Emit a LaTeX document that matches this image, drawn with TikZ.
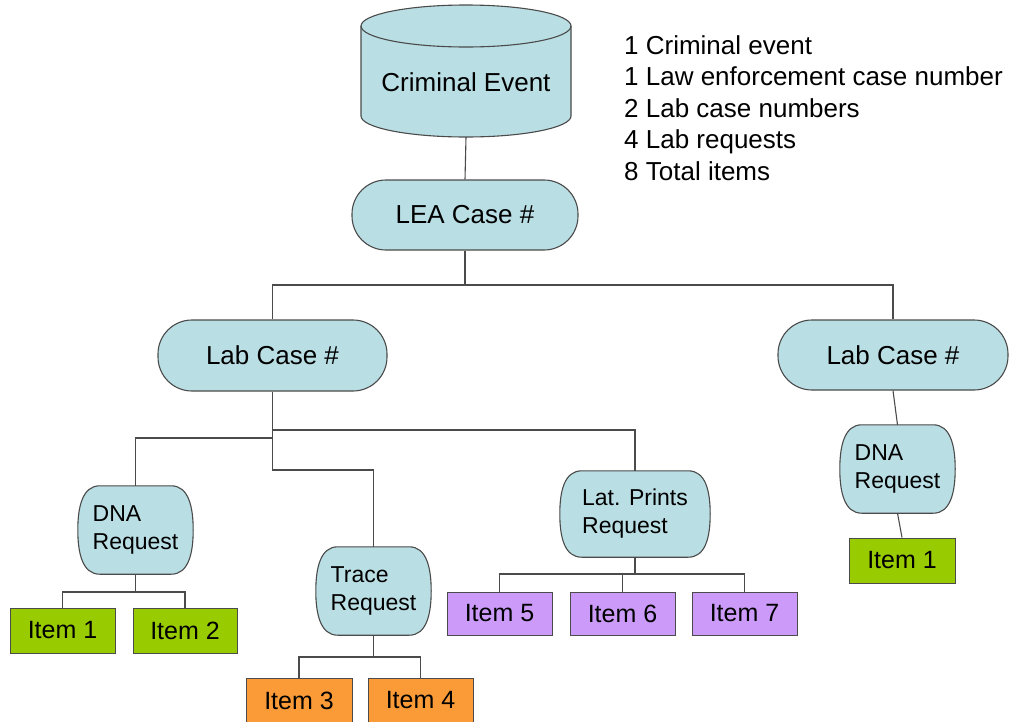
\documentclass[tikz,border=0pt]{standalone}
\usepackage{fontspec}
\setmainfont{Liberation Sans}
\usetikzlibrary{backgrounds,calc}
\definecolor{boxblue}{RGB}{185,222,228}
\definecolor{edgegray}{RGB}{75,75,75}
\definecolor{itemgreen}{RGB}{153,204,0}
\definecolor{itemorange}{RGB}{250,155,55}
\definecolor{itempurple}{RGB}{204,155,250}
\newcommand\reqpath[1]{%
  \path[draw=edgegray, fill=boxblue, line width=1.1pt]
  ([xshift=22pt]#1.north west) -- ([xshift=-22pt]#1.north east)
  .. controls ([xshift=-5pt]#1.north east) and ([yshift=24pt]#1.east) .. (#1.east)
  .. controls ([yshift=-24pt]#1.east) and ([xshift=-5pt]#1.south east) .. ([xshift=-22pt]#1.south east)
  -- ([xshift=22pt]#1.south west)
  .. controls ([xshift=5pt]#1.south west) and ([yshift=-24pt]#1.west) .. (#1.west)
  .. controls ([yshift=24pt]#1.west) and ([xshift=5pt]#1.north west) .. ([xshift=22pt]#1.north west) -- cycle;}
\begin{document}
\begin{tikzpicture}[x=1pt,y=-1pt,
  conn/.style={draw=edgegray, line width=1.1pt},
  stadium/.style={draw=edgegray, fill=boxblue, line width=1.1pt, rounded corners=34pt,
    minimum height=70pt, inner sep=0, font=\fontsize{26}{31}\selectfont},
  reqbox/.style={draw=none, align=left, inner sep=0, minimum width=115pt, minimum height=88pt,
    font=\fontsize{23}{28}\selectfont},
  itembox/.style={draw=edgegray, line width=1pt, inner sep=0, minimum width=105pt,
    minimum height=45pt, font=\fontsize{25}{30}\selectfont},
  greenitem/.style={itembox, fill=itemgreen},
  orangeitem/.style={itembox, fill=itemorange},
  purpleitem/.style={itembox, fill=itempurple, minimum height=43pt}]
\useasboundingbox (0,0) rectangle (1013,721);

% cylinder (criminal event)
\node[inner sep=0, minimum width=210pt, minimum height=110pt, font=\fontsize{26}{31}\selectfont]
  (ev) at (466,82) {Criminal Event};
\begin{pgfonlayer}{background}
\fill[boxblue] (361,26) -- (361,116) arc[start angle=180, end angle=360, x radius=105pt, y radius=21pt]
  -- (571,26) arc[start angle=0, end angle=180, x radius=105pt, y radius=21pt] -- cycle;
\draw[edgegray, line width=1.1pt] (361,26) -- (361,116)
  arc[start angle=180, end angle=360, x radius=105pt, y radius=21pt] -- (571,26);
\draw[edgegray, line width=1.1pt] (466,26) ellipse [x radius=105pt, y radius=21pt];
\end{pgfonlayer}

% legend
\node[anchor=north west, inner sep=0, align=left, font=\fontsize{26}{31.5}\selectfont]
  (legend) at (624,35) {1 Criminal event\\1 Law enforcement case number\\2 Lab case numbers\\4 Lab requests\\8 Total items};

% case boxes
\node[stadium, minimum width=226pt] (lea) at (465,215) {LEA Case \#};
\node[stadium, minimum width=229pt, minimum height=71pt] (labA) at (272.5,355.5) {Lab Case \#};
\node[stadium, minimum width=230pt] (labB) at (893,355) {Lab Case \#};

% requests
\node[reqbox] (dnaA) at (135.5,530) {DNA\\Request};
\node[reqbox] (trace) at (373.5,591) {Trace\\Request};
\node[reqbox, minimum width=150pt, minimum height=86pt] (lat) at (635,514) {Lat. Prints\\Request};
\node[reqbox] (dnaB) at (897.5,469) {DNA\\Request};
\begin{pgfonlayer}{background}
\reqpath{dnaA}
\reqpath{trace}
\reqpath{lat}
\reqpath{dnaB}
\end{pgfonlayer}

% items
\node[greenitem] (i1a) at (62.5,630.5) {Item 1};
\node[greenitem, minimum width=104pt] (i2) at (185,630.5) {Item 2};
\node[orangeitem, minimum width=106pt] (i3) at (299,700.5) {Item 3};
\node[orangeitem] (i4) at (420.5,700.5) {Item 4};
\node[purpleitem] (i5) at (499.5,613.5) {Item 5};
\node[purpleitem] (i6) at (622.5,613.5) {Item 6};
\node[purpleitem] (i7) at (744.5,613.5) {Item 7};
\node[greenitem, minimum width=106pt] (i1b) at (902,560.5) {Item 1};

% connectors
\draw[conn] (ev.south) -- (lea.north);
\draw[conn] (lea.south) -- (lea.south |- 0,285) -| (labA.north);
\draw[conn] (lea.south) -- (lea.south |- 0,285) -| (labB.north);
\draw[conn] (labA.south) -- (labA.south |- 0,430) -| (lat.north);
\draw[conn] (labA.south) -- (labA.south |- 0,438) -| (dnaA.north);
\draw[conn] (labA.south) -- (labA.south |- 0,470) -| (trace.north);
\draw[conn] (labB.south) -- (dnaB.north);
\draw[conn] (dnaB.south) -- (i1b.north);
\draw[conn] (dnaA.south) -- (dnaA.south |- 0,592) -| (i1a.north);
\draw[conn] (dnaA.south) -- (dnaA.south |- 0,592) -| (i2.north);
\draw[conn] (trace.south) -- (trace.south |- 0,657) -| (i3.north);
\draw[conn] (trace.south) -- (trace.south |- 0,657) -| (i4.north);
\draw[conn] (lat.south) -- (lat.south |- 0,574) -| (i5.north);
\draw[conn] (lat.south) -- (lat.south |- 0,574) -| (i6.north);
\draw[conn] (lat.south) -- (lat.south |- 0,574) -| (i7.north);
\end{tikzpicture}
\end{document}
